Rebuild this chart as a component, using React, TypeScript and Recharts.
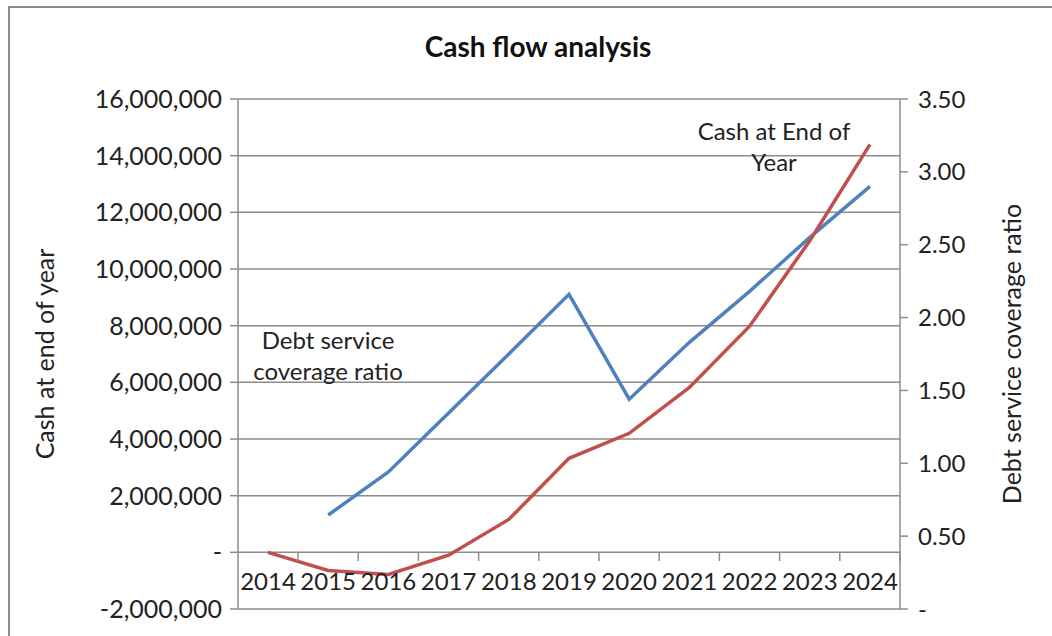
import React from "react";
import {
  LineChart,
  Line,
  XAxis,
  YAxis,
  CartesianGrid,
  Label,
} from "recharts";

const YEARS = ["2014", "2015", "2016", "2017", "2018", "2019", "2020", "2021", "2022", "2023", "2024"];

// cash at end of year (left axis)
const CASH = [0, -640000, -780000, -100000, 1160000, 3320000, 4200000, 5820000, 7980000, 11000000, 14400000];

// debt service coverage ratio (right axis), no value for 2014
const DSCR = [null, 0.645, 0.94, 1.345, 1.75, 2.16, 1.44, 1.83, 2.18, 2.55, 2.9];

const CASH_TICKS = [-2000000, 0, 2000000, 4000000, 6000000, 8000000, 10000000, 12000000, 14000000, 16000000];
const RATIO_TICKS = [0, 0.5, 1, 1.5, 2, 2.5, 3, 3.5];

const data = YEARS.map((year, i) => ({ year, cash: CASH[i], dscr: DSCR[i] }));

const FONT = "Lato, 'Open Sans', sans-serif";
const GRID = "#8c8c8c";
const TEXT = "#222";

const fmtCash = (v: number) => (v === 0 ? "-" : v.toLocaleString("en-US"));
const fmtRatio = (v: number) => (v === 0 ? "-" : v.toFixed(2));

// year labels sit just under the zero line, with small boundary ticks
function YearTick(props: any) {
  const { x, y, payload } = props;
  return (
    <g>
      <text x={x} y={y - 29} textAnchor="middle" dominantBaseline="central" fontSize={24} fill={TEXT} fontFamily={FONT}>
        {payload.value}
      </text>
      <line x1={x + 30} x2={x + 30} y1={y - 56} y2={y - 48} stroke={GRID} strokeWidth={1.5} />
    </g>
  );
}

export default function App() {
  return (
    <div style={{ position: "absolute", left: 0, top: 0, width: 1052, height: 636, background: "#fff", fontFamily: FONT }}>
      <div
        style={{
          position: "absolute",
          left: 8,
          top: 6,
          right: 0,
          bottom: 0,
          borderLeft: "2px solid #8c8c8c",
          borderTop: "2px solid #8c8c8c",
        }}
      />
      <div
        style={{
          position: "absolute",
          left: 0,
          width: 1052,
          top: 29,
          textAlign: "center",
          fontSize: 28,
          fontWeight: 700,
          color: "#111",
          paddingLeft: 12,
        }}
      >
        Cash flow analysis
      </div>
      <LineChart
        width={1052}
        height={636}
        data={data}
        margin={{ top: 99, right: 0, bottom: 25, left: 0 }}
        style={{ position: "absolute", left: 0, top: 0 }}
      >
        <CartesianGrid yAxisId="left" vertical={false} stroke={GRID} strokeWidth={1.5} />
        <XAxis
          dataKey="year"
          height={2}
          padding={{ left: 30, right: 30 }}
          axisLine={false}
          tickLine={false}
          tickSize={0}
          tickMargin={0}
          tick={<YearTick />}
          interval={0}
        />
        <YAxis
          yAxisId="left"
          width={238}
          domain={[-2000000, 16000000]}
          ticks={CASH_TICKS}
          tickFormatter={fmtCash}
          stroke={GRID}
          strokeWidth={1.5}
          tickSize={8}
          tickMargin={8}
          tick={{ fill: TEXT, fontSize: 25, fontFamily: FONT }}
        >
          <Label
            value="Cash at end of year"
            angle={-90}
            position="insideLeft"
            offset={45}
            style={{ textAnchor: "middle", fill: TEXT, fontSize: 25, fontFamily: FONT }}
          />
        </YAxis>
        <YAxis
          yAxisId="right"
          orientation="right"
          width={152}
          domain={[0, 3.5]}
          ticks={RATIO_TICKS}
          tickFormatter={fmtRatio}
          stroke={GRID}
          strokeWidth={1.5}
          tickSize={8}
          tickMargin={10}
          tick={{ fill: TEXT, fontSize: 24, fontFamily: FONT }}
        >
          <Label
            value="Debt service coverage ratio"
            angle={-90}
            position="insideRight"
            offset={40}
            style={{ textAnchor: "middle", fill: TEXT, fontSize: 25, fontFamily: FONT }}
          />
        </YAxis>
        <Line
          yAxisId="right"
          dataKey="dscr"
          stroke="#4F81BD"
          strokeWidth={3.5}
          dot={false}
          type="linear"
          isAnimationActive={false}
        />
        <Line
          yAxisId="left"
          dataKey="cash"
          stroke="#C0504D"
          strokeWidth={3.5}
          dot={false}
          type="linear"
          isAnimationActive={false}
        />
      </LineChart>
      <div
        style={{
          position: "absolute",
          left: 248,
          width: 160,
          top: 324,
          textAlign: "center",
          fontSize: 24,
          lineHeight: "31px",
          color: TEXT,
        }}
      >
        Debt service
        <br />
        coverage ratio
      </div>
      <div
        style={{
          position: "absolute",
          left: 684,
          width: 180,
          top: 115,
          textAlign: "center",
          fontSize: 24,
          lineHeight: "31px",
          color: TEXT,
        }}
      >
        Cash at End of
        <br />
        Year
      </div>
    </div>
  );
}
